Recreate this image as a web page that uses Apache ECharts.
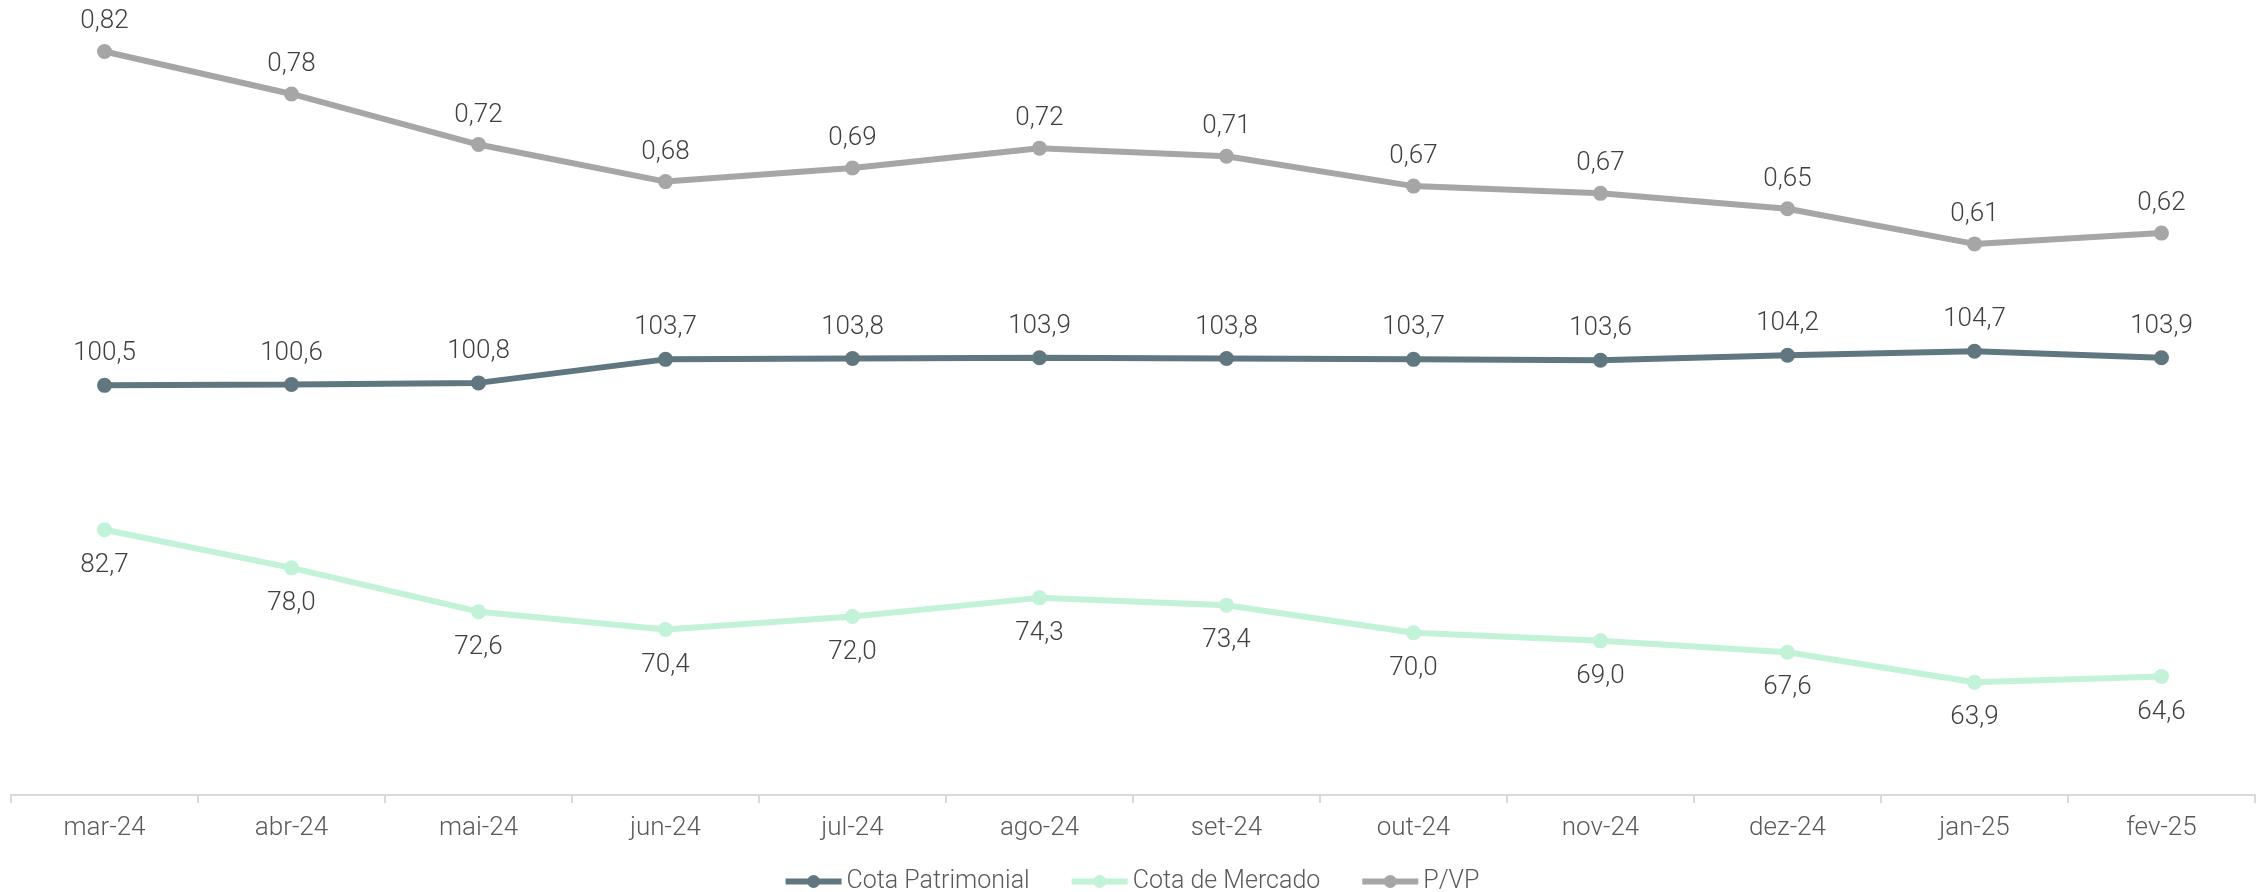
<!DOCTYPE html>
<html>
<head>
<meta charset="utf-8">
<script src="https://cdn.jsdelivr.net/npm/echarts@6/dist/echarts.min.js"></script>
<style>html,body{margin:0;padding:0;background:#fff}#c{width:2262px;height:892px}</style>
</head>
<body>
<div id="c"></div>
<script>
var categories = ['mar-24','abr-24','mai-24','jun-24','jul-24','ago-24','set-24','out-24','nov-24','dez-24','jan-25','fev-25'];
var cotaPatrimonial = [100.5,100.6,100.8,103.7,103.8,103.9,103.8,103.7,103.6,104.2,104.7,103.9];
var cotaMercado = [82.7,78.0,72.6,70.4,72.0,74.3,73.4,70.0,69.0,67.6,63.9,64.6];
var pvp = [0.823,0.776,0.720,0.679,0.694,0.716,0.707,0.674,0.666,0.649,0.610,0.622];

var FONT = 'Roboto';
var fmt1 = function(p){ return p.value.toFixed(1).replace('.', ','); };
var fmt2 = function(p){ return p.value.toFixed(2).replace('.', ','); };
var labelStyle = { fontFamily: FONT, fontWeight: 300, fontSize: 26, color: '#404040' };

var chart = echarts.init(document.getElementById('c'));
chart.setOption({
  animation: false,
  grid: { left: 11, right: 7, top: 0, height: 795 },
  legend: {
    bottom: -7,
    left: 'center',
    itemWidth: 56, itemHeight: 16, itemGap: 39,
    textStyle: { fontFamily: FONT, fontWeight: 300, fontSize: 25, color: '#595959' },
    lineStyle: { width: 6 },
    data: ['Cota Patrimonial','Cota de Mercado','P/VP']
  },
  xAxis: {
    type: 'category',
    data: categories,
    boundaryGap: true,
    axisLine: { lineStyle: { color: '#d9d9d9', width: 2 } },
    axisTick: { show: true, length: 8, lineStyle: { color: '#d9d9d9', width: 2 } },
    axisLabel: { fontFamily: FONT, fontWeight: 300, fontSize: 26, color: '#595959', margin: 20 }
  },
  yAxis: [
    { type: 'value', min: 50, max: 148, show: false, splitLine: { show: false } },
    { type: 'value', min: 0, max: 0.88, show: false, splitLine: { show: false } }
  ],
  series: [
    {
      name: 'Cota Patrimonial', type: 'line', yAxisIndex: 0, data: cotaPatrimonial,
      symbol: 'circle', symbolSize: 15,
      lineStyle: { color: '#607780', width: 6 }, itemStyle: { color: '#607780' },
      label: Object.assign({ show: true, position: 'top', distance: 11, formatter: fmt1 }, labelStyle)
    },
    {
      name: 'Cota de Mercado', type: 'line', yAxisIndex: 0, data: cotaMercado,
      symbol: 'circle', symbolSize: 15,
      lineStyle: { color: '#c2f2d8', width: 6 }, itemStyle: { color: '#c2f2d8' },
      label: Object.assign({ show: true, position: 'bottom', distance: 15, formatter: fmt1 }, labelStyle)
    },
    {
      name: 'P/VP', type: 'line', yAxisIndex: 1, data: pvp,
      symbol: 'circle', symbolSize: 15,
      lineStyle: { color: '#a6a6a6', width: 6 }, itemStyle: { color: '#a6a6a6' },
      label: Object.assign({ show: true, position: 'top', distance: 9, formatter: fmt2 }, labelStyle)
    }
  ]
});
</script>
</body>
</html>
